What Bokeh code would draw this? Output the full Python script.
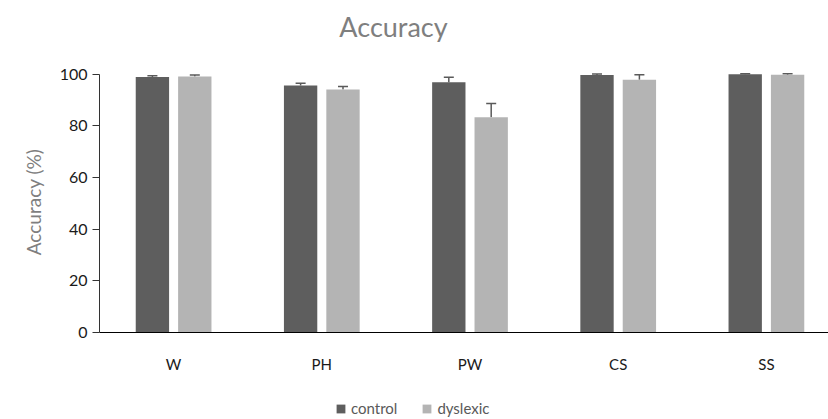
import numpy as np
from bokeh.plotting import figure
from bokeh.layouts import column
from bokeh.models import (ColumnDataSource, Range1d, FixedTicker, Whisker, TeeHead,
                          Legend, LegendItem)
from bokeh.core.properties import value
from bokeh.embed import file_html
from bokeh.resources import INLINE

title_text = "Accuracy"
categories = ["W", "PH", "PW", "CS", "SS"]
control = [98.9, 95.6, 96.8, 99.6, 99.9]
dyslexic = [99.1, 94.0, 83.3, 97.8, 99.7]
control_err = [0.5, 0.9, 2.0, 0.4, 0.2]
dyslexic_err = [0.5, 1.2, 5.3, 1.9, 0.4]
y_ticks = [0, 20, 40, 60, 80, 100]
series_names = ["control", "dyslexic"]

FONT = "Lato"
C_CTRL = "#5e5e5e"
C_DYS = "#b4b4b4"

centers = np.arange(len(categories)) + 0.5
off = 0.143
bw = 0.225


def strip(h):
    f = figure(width=828, height=h, output_backend="svg", toolbar_location=None,
               x_range=Range1d(0, 729), y_range=Range1d(0, h),
               min_border_left=0, min_border_right=0, min_border_top=0,
               min_border_bottom=0)
    f.axis.visible = False
    f.grid.visible = False
    f.outline_line_color = None
    return f


# title strip
TH = 45
t = strip(TH)
t.text(x=[294], y=[TH - 26], text=[title_text], text_align="center",
       text_baseline="middle", text_font=value(FONT), text_font_size="27px",
       text_color="#7f7f7f")

src_c = ColumnDataSource(dict(x=centers - off, top=control,
                              up=np.array(control) + np.array(control_err)))
src_d = ColumnDataSource(dict(x=centers + off, top=dyslexic,
                              up=np.array(dyslexic) + np.array(dyslexic_err)))

p = figure(width=828, height=345, output_backend="svg", toolbar_location=None,
           x_range=Range1d(0, 4.919), y_range=Range1d(0, 101),
           min_border_left=99, min_border_right=0, min_border_top=71 - TH,
           min_border_bottom=58)
p.outline_line_color = None
p.grid.visible = False
p.background_fill_color = "white"
p.border_fill_color = "white"

p.vbar(x="x", top="top", width=bw, bottom=0, source=src_c,
       fill_color=C_CTRL, line_color=None)
p.vbar(x="x", top="top", width=bw, bottom=0, source=src_d,
       fill_color=C_DYS, line_color=None)

for s in (src_c, src_d):
    w = Whisker(base="x", lower="top", upper="up", source=s,
                line_color="#5a5a5a", line_width=1.5,
                upper_head=TeeHead(size=10, line_color="#5a5a5a", line_width=1.5),
                lower_head=None)
    p.add_layout(w)

# x axis
p.xaxis.ticker = FixedTicker(ticks=list(centers))
p.xaxis.major_label_overrides = {float(c): lab for c, lab in zip(centers, categories)}
p.xaxis.major_tick_line_color = None
p.xaxis.minor_tick_line_color = None
p.xaxis.axis_line_color = "#000000"
p.xaxis.axis_line_width = 1
p.xaxis.major_label_standoff = 16
p.xaxis.major_label_text_font = FONT
p.xaxis.major_label_text_font_size = "15px"
p.xaxis.major_label_text_color = "#1a1a1a"

# y axis
p.yaxis.ticker = FixedTicker(ticks=y_ticks)
p.yaxis.bounds = (0, 100)
p.yaxis.minor_tick_line_color = None
p.yaxis.major_tick_out = 7
p.yaxis.major_tick_in = 0
p.yaxis.major_tick_line_color = "#333333"
p.yaxis.axis_line_color = "#333333"
p.yaxis.major_label_standoff = 5
p.yaxis.major_label_text_font = FONT
p.yaxis.major_label_text_font_size = "16px"
p.yaxis.major_label_text_color = "#1a1a1a"
p.yaxis.axis_label = "Accuracy (%)"
p.yaxis.axis_label_text_font = FONT
p.yaxis.axis_label_text_font_style = "normal"
p.yaxis.axis_label_text_font_size = "19px"
p.yaxis.axis_label_text_color = "#7f7f7f"
p.yaxis.axis_label_standoff = 12

# legend strip below the chart (legend swatches use off-range placeholder bars)
q = strip(29)
hidden = dict(x=[-500], top=[-500], bottom=[-600])
lc = q.vbar(x="x", top="top", bottom="bottom", width=1, source=ColumnDataSource(hidden),
            fill_color=C_CTRL, line_color=None)
ld = q.vbar(x="x", top="top", bottom="bottom", width=1, source=ColumnDataSource(hidden),
            fill_color=C_DYS, line_color=None)
legend = Legend(items=[LegendItem(label=series_names[0], renderers=[lc]),
                       LegendItem(label=series_names[1], renderers=[ld])],
                orientation="horizontal", location=(236, 2),
                glyph_width=11, glyph_height=11, label_standoff=5, spacing=24,
                label_text_font=FONT, label_text_font_size="15px",
                label_text_color="#595959", border_line_color=None,
                background_fill_alpha=0, padding=0, margin=0)
q.add_layout(legend, "center")

layout = column(t, p, q, spacing=0)
open("out.html", "w").write(file_html(layout, INLINE))
